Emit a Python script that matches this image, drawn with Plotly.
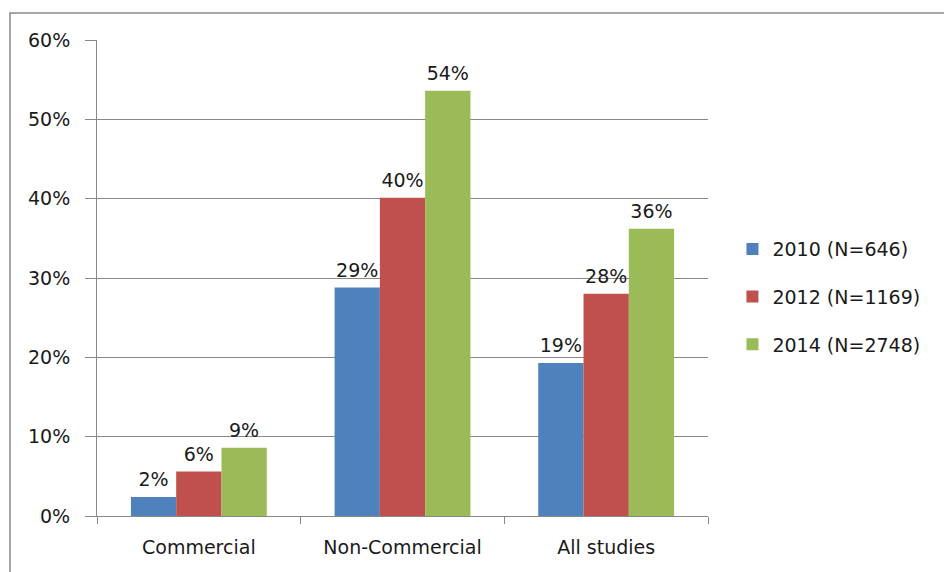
import plotly.graph_objects as go

# Share of studies per sponsor type, by survey year
categories = ["Commercial", "Non-Commercial", "All studies"]
series_names = ["2010 (N=646)", "2012 (N=1169)", "2014 (N=2748)"]
values_2010 = [0.024, 0.288, 0.193]
values_2012 = [0.056, 0.401, 0.280]
values_2014 = [0.086, 0.536, 0.362]
series_values = [values_2010, values_2012, values_2014]
colors = ["#4F81BD", "#C0504D", "#9BBB59"]
y_ticks = [0, 0.1, 0.2, 0.3, 0.4, 0.5, 0.6]

FONT = "DejaVu Sans"
GRID = "#888888"
TEXT = "#1a1a1a"

fig = go.Figure()
for i, (name, vals, col) in enumerate(zip(series_names, series_values, colors)):
    fig.add_trace(go.Bar(
        x=categories,
        y=vals,
        name=name,
        legendgroup=name,
        offsetgroup=str(i),
        marker=dict(color=col, line=dict(width=0)),
    ))

# Value labels: transparent markers sitting on each bar top push the text up a bit
for i, vals in enumerate(series_values):
    fig.add_trace(go.Scatter(
        x=categories,
        y=vals,
        mode="markers+text",
        offsetgroup=str(i),
        texttemplate="%{y:.0%}",
        textposition="top center",
        textfont=dict(family=FONT, size=19, color=TEXT),
        marker=dict(size=8, opacity=0),
        showlegend=False,
        hoverinfo="skip",
        cliponaxis=False,
    ))

fig.update_layout(
    width=944,
    height=572,
    margin=dict(l=97, r=236, t=40, b=56),
    paper_bgcolor="white",
    plot_bgcolor="white",
    barmode="group",
    scattermode="group",
    bargap=0.333,
    scattergap=0.333,
    bargroupgap=0,
    font=dict(family=FONT, size=19, color=TEXT),
    showlegend=True,
    legend=dict(
        x=1.04, xanchor="left",
        y=0.46, yanchor="middle",
        font=dict(family=FONT, size=19, color=TEXT),
        tracegroupgap=20,
        itemwidth=30,
        bgcolor="rgba(0,0,0,0)",
    ),
    xaxis=dict(
        showline=True, linecolor=GRID, linewidth=1,
        ticks="outside", tickson="boundaries", ticklen=7, tickcolor=GRID,
        showgrid=False,
        tickfont=dict(family=FONT, size=19, color=TEXT),
        ticklabelstandoff=14,
    ),
    yaxis=dict(
        range=[0, 0.6],
        tickvals=y_ticks,
        tickformat=".0%",
        showline=True, linecolor=GRID, linewidth=1,
        ticks="outside", ticklen=11, tickcolor=GRID,
        showgrid=True, gridcolor=GRID, gridwidth=1,
        zeroline=False,
        tickfont=dict(family=FONT, size=19, color=TEXT),
        ticklabelstandoff=11,
    ),
)

# Outer chart-area frame
fig.add_shape(
    type="rect", xref="paper", yref="paper",
    x0=-0.1424, x1=2.0, y0=-1.0, y1=1.0567,
    line=dict(color=GRID, width=1.5),
    fillcolor="rgba(0,0,0,0)",
    layer="below",
)

fig.write_html("out.html")
